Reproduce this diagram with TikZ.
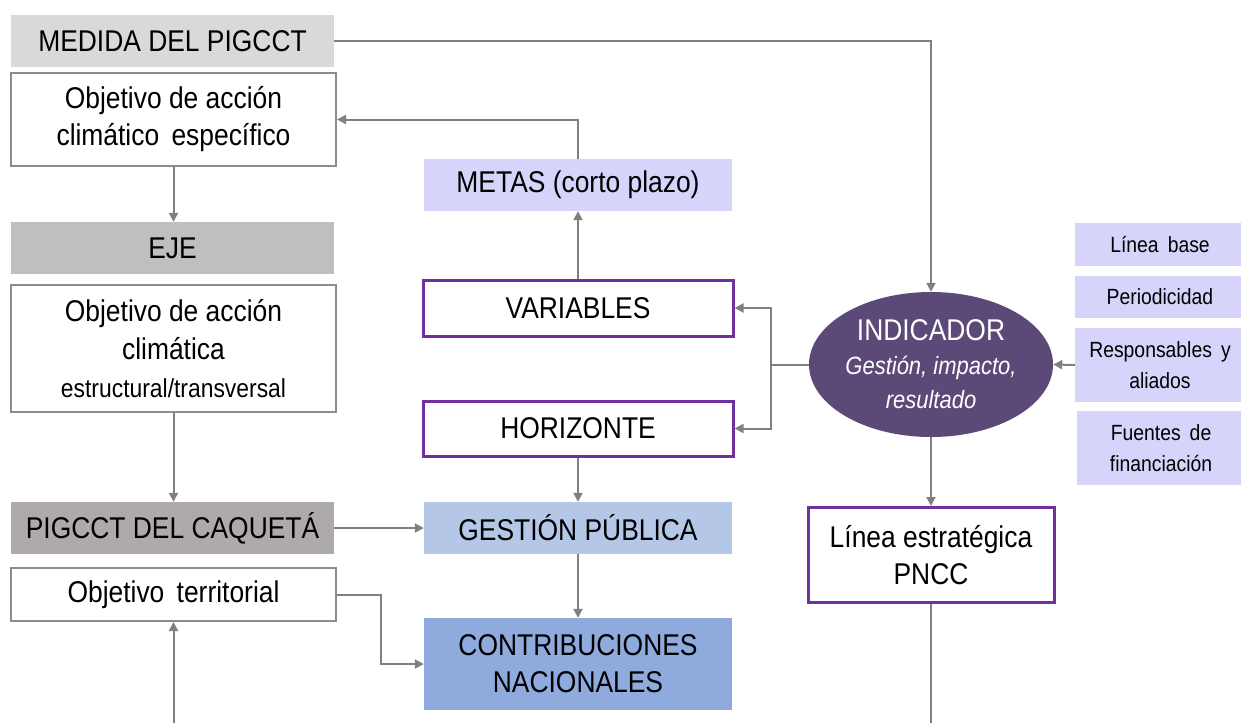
\documentclass[tikz,border=0pt]{standalone}
\usepackage{fontspec}
\setmainfont{Liberation Sans}[FakeStretch=0.88]
\usetikzlibrary{arrows.meta,shapes.geometric}
\definecolor{cMedida}{RGB}{217,217,217}
\definecolor{cEje}{RGB}{191,191,191}
\definecolor{cCaq}{RGB}{174,170,170}
\definecolor{cLav}{RGB}{214,212,250}
\definecolor{cPurple}{RGB}{112,48,160}
\definecolor{cGest}{RGB}{180,199,231}
\definecolor{cContrib}{RGB}{143,170,220}
\definecolor{cInd}{RGB}{91,74,120}
\definecolor{cLine}{RGB}{128,128,128}
\definecolor{cBorder}{RGB}{140,140,140}
\begin{document}
\begin{tikzpicture}[x=1pt,y=-1pt,
  base/.style={rectangle,inner sep=0pt,align=center,text=black,font=\fontsize{30}{37}\selectfont},
  fillbox/.style={base,draw=none},
  graybox/.style={base,draw=cBorder,line width=2pt,fill=white},
  purplebox/.style={base,draw=cPurple,line width=3pt,fill=white},
  sidebox/.style={base,fill=cLav,font=\fontsize{22}{31}\selectfont},
  conn/.style={draw=cLine,line width=2pt},
  arr/.style={conn,-{Triangle[length=9pt,width=9pt]}}]
\useasboundingbox[fill=white] (0,0) rectangle (1241,723);

% left column
\node[fillbox,fill=cMedida,minimum width=323,minimum height=52] (medida) at (172.5,41) {MEDIDA DEL PIGCCT};
\node[graybox,minimum width=325,minimum height=93] (obj1) at (173.5,119.5) {Objetivo de acción\\climático \,específico};
\node[fillbox,fill=cEje,minimum width=323,minimum height=52] (eje) at (172.5,248) {EJE};
\node[graybox,minimum width=325,minimum height=127,font=\fontsize{30}{38}\selectfont] (obj2) at (173.5,348.5) {Objetivo de acción\\climática\\{\fontsize{26}{38}\selectfont estructural/transversal}};
\node[fillbox,fill=cCaq,minimum width=323,minimum height=52] (caq) at (172.5,528) {PIGCCT DEL CAQUETÁ};
\node[graybox,minimum width=325,minimum height=53] (terr) at (173.5,594.5) {Objetivo \,territorial};

% middle column
\node[fillbox,fill=cLav,minimum width=308,minimum height=52] (metas) at (578,185) {METAS (corto plazo)};
\node[purplebox,minimum width=310,minimum height=56] (var) at (578,308) {VARIABLES};
\node[purplebox,minimum width=310,minimum height=55] (hor) at (578,428.5) {HORIZONTE};
\node[fillbox,fill=cGest,minimum width=308,minimum height=52] (gest) at (578,528) {GESTIÓN PÚBLICA};
\node[fillbox,fill=cContrib,minimum width=308,minimum height=92] (contrib) at (578,664) {CONTRIBUCIONES\\NACIONALES};

% right part
\node[ellipse,draw=none,fill=cInd,inner sep=0pt,minimum width=244,minimum height=145,align=center,text=white,font=\fontsize{30}{34}\selectfont] (ind) at (931,364.5) {INDICADOR\\{\itshape\fontsize{25}{34}\selectfont Gestión, impacto,}\\{\itshape\fontsize{25}{34}\selectfont resultado}};
\node[purplebox,minimum width=246,minimum height=95] (linea) at (931,555) {Línea estratégica\\PNCC};

\node[sidebox,minimum width=170,minimum height=43] (lbase) at (1160,244.5) {Línea \,base};
\node[sidebox,minimum width=170,minimum height=42] (per) at (1160,297) {Periodicidad};
\node[sidebox,minimum width=170,minimum height=74] (resp) at (1160,365) {Responsables \,y\\aliados};
\node[sidebox,minimum width=168,minimum height=74] (fuen) at (1161,448) {Fuentes \,de\\financiación};

% connectors
\coordinate (bl) at (173.5,723);
\coordinate (br) at (931,723);
\draw[arr] (medida.east) -| (ind.north);
\draw[arr] (metas.north) |- (obj1.east);
\draw[arr] (obj1.south) -- (obj1.south |- eje.north);
\draw[arr] (obj2.south) -- (obj2.south |- caq.north);
\draw[arr] (caq.east) -- (gest.west);
\draw[arr] (terr.east) -- ++(44,0) |- (contrib.west);
\draw[arr] (bl) -- (terr.south);
\draw[arr] (var.north) -- (metas.south);
\draw[arr] (ind.west) -- ++(-38,0) coordinate (j) |- (var.east);
\draw[arr] (j) |- (hor.east);
\draw[arr] (hor.south) -- (gest.north);
\draw[arr] (gest.south) -- (contrib.north);
\draw[arr] (ind.south) -- (linea.north);
\draw[conn] (linea.south) -- (br);
\draw[arr] (resp.west) -- (ind.east);
\end{tikzpicture}
\end{document}
